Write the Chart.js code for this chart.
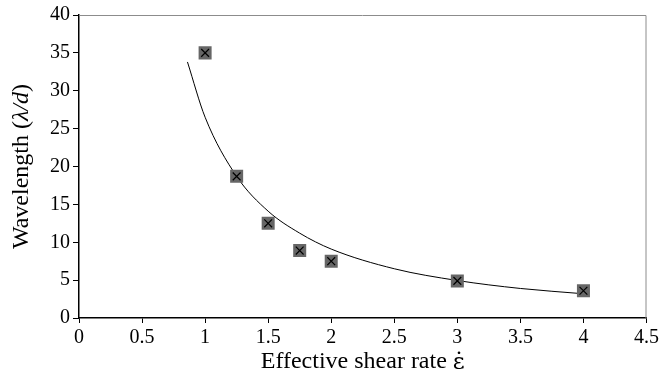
<!DOCTYPE html>
<html>
<head>
<meta charset="utf-8">
<script src="https://cdn.jsdelivr.net/npm/chart.js@4"></script>
<style>
  html, body { margin: 0; padding: 0; background: #fff; }
  #wrap { width: 662px; height: 383px; }
</style>
</head>
<body>
<div id="wrap"><canvas id="chart" width="662" height="383"></canvas></div>
<script>
// measured points
const shearRate = [1, 1.25, 1.5, 1.75, 2, 3, 4];
const wavelength = [35, 18.7, 12.5, 8.9, 7.5, 4.9, 3.6];

// fitted trend line
const fitX = [0.86, 1, 1.25, 1.5, 1.75, 2, 2.5, 3, 3.5, 4];
const fitY = [33.8, 26.5, 18.7, 14.1, 11.2, 9.1, 6.5, 4.95, 3.9, 3.2];

const xTicks = [0, 0.5, 1, 1.5, 2, 2.5, 3, 3.5, 4, 4.5];
const yTicks = [0, 5, 10, 15, 20, 25, 30, 35, 40];

const serif = '"Liberation Serif", "DejaVu Serif", serif';

const toXY = (xs, ys) => xs.map((x, i) => ({ x: x, y: ys[i] }));

// draws text pieces in a row, centred on (0,0) of the current transform
function drawParts(ctx, parts) {
    let total = 0;
    parts.forEach(p => { ctx.font = p.f; p.w = ctx.measureText(p.t).width; total += p.w; });
    let x = -total / 2;
    parts.forEach(p => { ctx.font = p.f; ctx.fillText(p.t, x, p.dy || 0); x += p.w; });
}

// gray frame on top/right + both axis titles (mixed fonts)
const framePlugin = {
    id: 'frame',
    beforeDatasetsDraw(chart) {
        const { ctx, chartArea: a } = chart;
        ctx.save();
        ctx.strokeStyle = '#8c8c8c';
        ctx.lineWidth = 1;
        ctx.beginPath();
        ctx.moveTo(a.left, a.top + 0.5);
        ctx.lineTo(a.right - 0.5, a.top + 0.5);
        ctx.lineTo(a.right - 0.5, a.bottom);
        ctx.stroke();
        ctx.restore();
    },
    afterDraw(chart) {
        const { ctx, chartArea: a } = chart;
        ctx.save();
        ctx.fillStyle = '#000';
        ctx.textBaseline = 'middle';

        ctx.save();
        ctx.translate(22, (a.top + a.bottom) / 2);
        ctx.rotate(-Math.PI / 2);
        drawParts(ctx, [
            { t: 'Wavelength (', f: '24px ' + serif },
            { t: 'λ/d', f: 'italic 24px ' + serif },
            { t: ')', f: '24px ' + serif }
        ]);
        ctx.restore();

        ctx.translate((a.left + a.right) / 2, 362);
        drawParts(ctx, [
            { t: 'Effective shear rate ', f: '24px ' + serif },
            { t: 'ε̇', f: '23px "DejaVu Serif", serif', dy: 1 }
        ]);
        ctx.restore();
    }
};

new Chart(document.getElementById('chart').getContext('2d'), {
    type: 'scatter',
    data: {
        datasets: [
            {
                label: 'fit',
                type: 'line',
                data: toXY(fitX, fitY),
                borderColor: '#000',
                borderWidth: 1,
                pointRadius: 0,
                cubicInterpolationMode: 'monotone',
                fill: false,
                order: 3
            },
            {
                label: 'data',
                data: toXY(shearRate, wavelength),
                pointStyle: 'rect',
                pointRadius: 9.2,
                pointHoverRadius: 9.2,
                backgroundColor: '#666666',
                borderWidth: 0,
                order: 2
            },
            {
                label: 'data cross',
                data: toXY(shearRate, wavelength),
                pointStyle: 'crossRot',
                pointRadius: 5.5,
                pointHoverRadius: 5.5,
                borderColor: '#000',
                borderWidth: 1.2,
                order: 1
            }
        ]
    },
    options: {
        responsive: false,
        animation: false,
        events: [],
        layout: { padding: { top: 10, right: 12, left: 0, bottom: 0 } },
        plugins: { legend: { display: false }, tooltip: { enabled: false } },
        scales: {
            x: {
                type: 'linear',
                min: 0,
                max: 4.5,
                afterBuildTicks: s => { s.ticks = xTicks.map(v => ({ value: v })); },
                afterFit: s => { s.height = 65; },
                border: { color: '#000', width: 1.5 },
                grid: { drawOnChartArea: false, drawTicks: true, tickLength: 5, color: '#000' },
                ticks: {
                    color: '#000',
                    font: { family: serif, size: 20 },
                    padding: 3,
                    maxRotation: 0,
                    callback: v => String(v)
                }
            },
            y: {
                min: 0,
                max: 40,
                afterBuildTicks: s => { s.ticks = yTicks.map(v => ({ value: v })); },
                afterFit: s => { s.width = 79; },
                border: { color: '#000', width: 1.5 },
                grid: { drawOnChartArea: false, drawTicks: true, tickLength: 6, color: '#000' },
                ticks: { color: '#000', font: { family: serif, size: 20 }, padding: 3, callback: v => String(v) }
            }
        }
    },
    plugins: [framePlugin]
});
</script>
</body>
</html>
